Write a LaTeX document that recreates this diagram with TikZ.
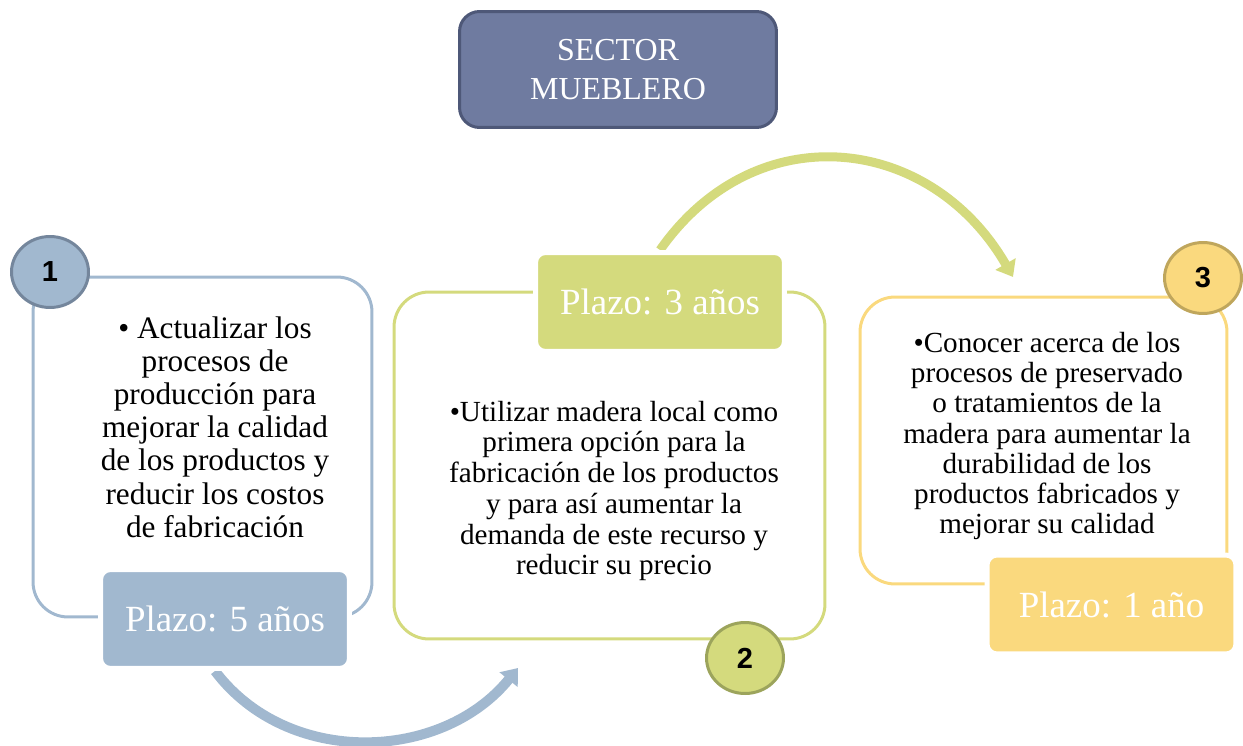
\documentclass[tikz,border=0pt]{standalone}
\usepackage{fontspec}
\setmainfont{Liberation Serif}
\newfontfamily\numfont{Liberation Sans}
\usepackage{tikz}
\usetikzlibrary{arrows.meta,shapes.geometric}
\definecolor{azul}{HTML}{A1B8CF}
\definecolor{azulosc}{HTML}{74869C}
\definecolor{verde}{HTML}{D4DA7D}
\definecolor{verdeosc}{HTML}{9CA45C}
\definecolor{amarillo}{HTML}{FAD97E}
\definecolor{amarilloosc}{HTML}{BFA65C}
\definecolor{titulo}{HTML}{6F7BA0}
\definecolor{tituloosc}{HTML}{4E5878}

\begin{document}
\begin{tikzpicture}[x=0.02cm,y=0.02cm,
  marco/.style={draw=#1, line width=0.06cm, rounded corners=0.7cm, inner sep=0pt},
  plazo/.style={fill=#1, draw=white, line width=0.1cm, rounded corners=0.2cm,
    minimum width=4.98cm, minimum height=1.98cm, inner sep=0pt,
    text=white, font=\fontsize{21}{24}\selectfont},
  numero/.style={ellipse, fill=#1, line width=0.06cm, minimum width=1.54cm,
    minimum height=1.42cm, inner sep=0pt, font=\numfont\bfseries\fontsize{16.5}{18}\selectfont},
  texto/.style={align=center, inner sep=0pt},
  flecha/.style={draw=#1, -{Triangle[width=0.45cm,length=0.3cm]}}]
\useasboundingbox (0,0) rectangle (1243,-746);

% titulo
\node[fill=titulo, draw=tituloosc, line width=0.06cm, rounded corners=0.4cm,
  minimum width=6.34cm, minimum height=2.32cm, text=white, align=center,
  font=\fontsize{18.2}{22.5}\selectfont] (sector) at (618,-69.5) {SECTOR\\MUEBLERO};

% marcos
\node[marco=azul, minimum width=6.78cm, minimum height=6.80cm] (marco1) at (202.5,-447) {};
\node[marco=verde, minimum width=8.62cm, minimum height=6.94cm] (marco2) at (609.5,-465.5) {};
\node[marco=amarillo, minimum width=7.34cm, minimum height=5.74cm] (marco3) at (1043.5,-440.5) {};

% textos
\node[texto, font=\fontsize{17.8}{18.9}\selectfont] (texto1) at (215,-427)
  {• Actualizar los\\procesos de\\producción para\\mejorar la calidad\\de los productos y\\reducir los costos\\de fabricación};
\node[texto, font=\fontsize{16.6}{17.5}\selectfont] (texto2) at (614,-491)
  {•Utilizar madera local como\\primera opción para la\\fabricación de los productos\\y para así aumentar la\\demanda de este recurso y\\reducir su precio};
\node[texto, font=\fontsize{16.6}{17.2}\selectfont] (texto3) at (1047,-436)
  {•Conocer acerca de los\\procesos de preservado\\o tratamientos de la\\madera para aumentar la\\durabilidad de los\\productos fabricados y\\mejorar su calidad};

% flechas
\coordinate (fin1) at (518,-668);
\coordinate (fin2) at (1013,-277);
\node[plazo=azul] (plazo1) at (225,-619) {Plazo: 5 años};
\node[plazo=verde] (plazo2) at (660,-302) {Plazo: 3 años};
\draw[flecha=azul, line width=0.2cm] ([xshift=-0.2cm]plazo1.south) to[out=-53, in=-129, looseness=1.02] (fin1);
\draw[flecha=verde, line width=0.18cm] (plazo2.north) to[out=55, in=120, looseness=1.2] (fin2);
\node[plazo=azul] at (plazo1) {Plazo: 5 años};
\node[plazo=verde] at (plazo2) {Plazo: 3 años};
\node[plazo=amarillo] (plazo3) at (1111.5,-604.5) {Plazo: 1 año};

% numeros
\node[numero=azul, draw=azulosc] (num1) at (50,-272) {1};
\node[numero=verde, draw=verdeosc] (num2) at (745,-658) {2};
\node[numero=amarillo, draw=amarilloosc] (num3) at (1203,-278) {3};
\end{tikzpicture}
\end{document}
